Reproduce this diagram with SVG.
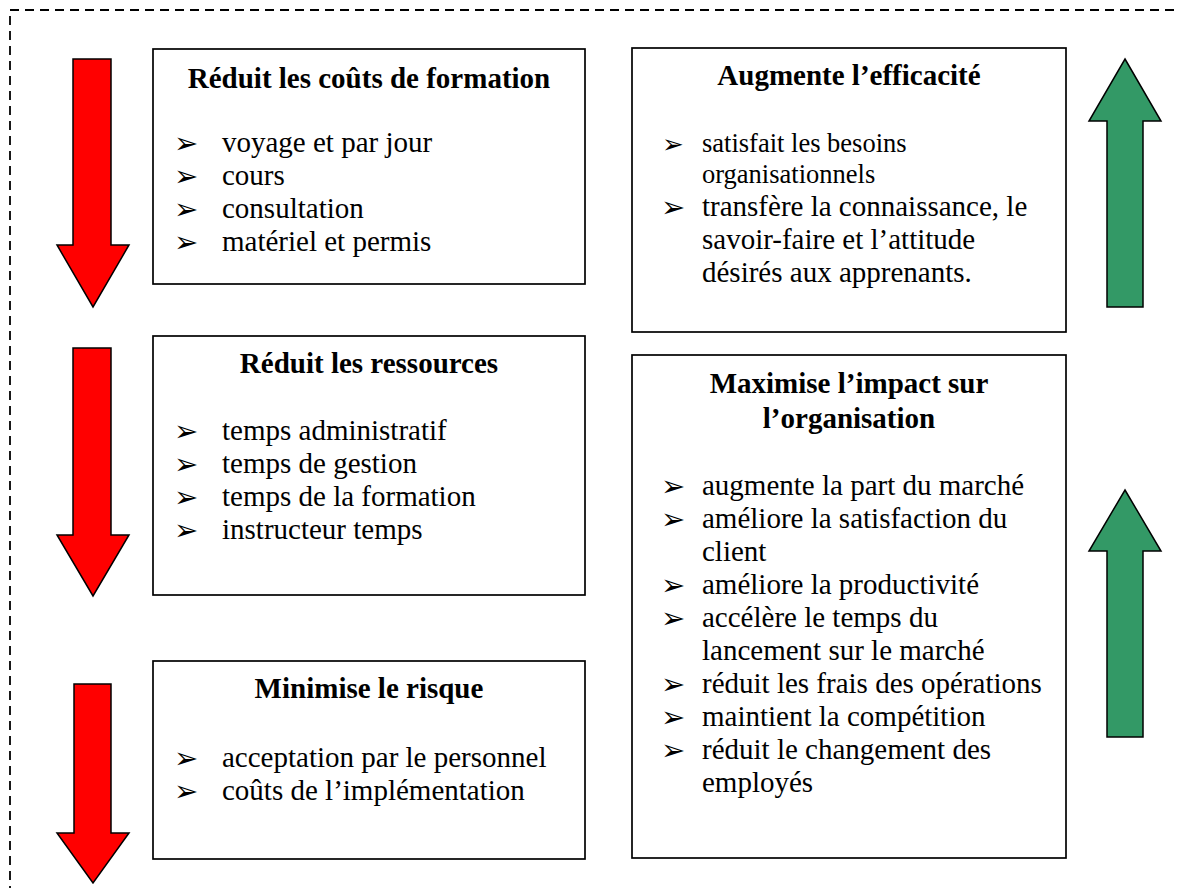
<svg xmlns="http://www.w3.org/2000/svg" width="1178" height="888" viewBox="0 0 1178 888">
<style>
.frame{fill:none;stroke:#000;stroke-width:1.8;stroke-dasharray:9 6}
.box{fill:#fff;stroke:#000;stroke-width:1.7}
.red{fill:#ff0000;stroke:#000;stroke-width:1.5;stroke-linejoin:miter}
.green{fill:#339966;stroke:#000;stroke-width:1.5;stroke-linejoin:miter}
.t{font-family:"Liberation Serif","Times New Roman",serif;font-size:29px;fill:#000}
.h{font-family:"Liberation Serif","Times New Roman",serif;font-size:29px;font-weight:bold;fill:#000;text-anchor:middle}
.s{font-family:"Liberation Serif","Times New Roman",serif;font-size:26.5px;fill:#000}
.b{font-family:"DejaVu Sans",sans-serif;font-size:29px;fill:#000}
.bs{font-family:"DejaVu Sans",sans-serif;font-size:26px;fill:#000}
</style>
<rect class="frame" x="10" y="10" width="1200" height="900"/>
<g id="arrows">
<path class="red" d="M73,59 H111 V245 H129 L93,307 L57,245 H73 Z"/>
<path class="red" d="M73,348 H111 V535 H129 L93,596 L57,535 H73 Z"/>
<path class="red" d="M74,684 H111 V833 H129 L93,883 L57,833 H74 Z"/>
<path class="green" d="M1125,59 L1161,121 H1143 V307 H1107 V121 H1089 Z"/>
<path class="green" d="M1125,490 L1161,551 H1143 V737 H1107 V551 H1089 Z"/>
</g>
<g id="box-couts">
<rect class="box" x="153" y="49" width="432" height="235"/>
<text class="h" x="369" y="88">Réduit les coûts de formation</text>
<text class="b" x="174" y="153">➢</text><text class="t" x="222" y="152">voyage et par jour</text>
<text class="b" x="174" y="186">➢</text><text class="t" x="222" y="185">cours</text>
<text class="b" x="174" y="219">➢</text><text class="t" x="222" y="218">consultation</text>
<text class="b" x="174" y="252">➢</text><text class="t" x="222" y="251">matériel et permis</text>
</g>
<g id="box-ressources">
<rect class="box" x="153" y="336" width="432" height="259"/>
<text class="h" x="369" y="373">Réduit les ressources</text>
<text class="b" x="174" y="441">➢</text><text class="t" x="222" y="440">temps administratif</text>
<text class="b" x="174" y="474">➢</text><text class="t" x="222" y="473">temps de gestion</text>
<text class="b" x="174" y="507">➢</text><text class="t" x="222" y="506">temps de la formation</text>
<text class="b" x="174" y="540">➢</text><text class="t" x="222" y="539">instructeur temps</text>
</g>
<g id="box-risque">
<rect class="box" x="153" y="661" width="432" height="198"/>
<text class="h" x="369" y="698">Minimise le risque</text>
<text class="b" x="174" y="768">➢</text><text class="t" x="222" y="767">acceptation par le personnel</text>
<text class="b" x="174" y="801">➢</text><text class="t" x="222" y="800">coûts de l’implémentation</text>
</g>
<g id="box-efficacite">
<rect class="box" x="632" y="48" width="434" height="284"/>
<text class="h" x="849" y="85">Augmente l’efficacité</text>
<text class="bs" x="662" y="153">➢</text><text class="s" x="702" y="152">satisfait les besoins</text>
<text class="s" x="702" y="183">organisationnels</text>
<text class="b" x="661" y="217">➢</text><text class="t" x="702" y="216">transfère la connaissance, le</text>
<text class="t" x="702" y="249">savoir-faire et l’attitude</text>
<text class="t" x="702" y="282">désirés aux apprenants.</text>
</g>
<g id="box-impact">
<rect class="box" x="632" y="355" width="434" height="503"/>
<text class="h" x="849" y="393">Maximise l’impact sur</text>
<text class="h" x="849" y="428">l’organisation</text>
<text class="b" x="661" y="496">➢</text><text class="t" x="702" y="495">augmente la part du marché</text>
<text class="b" x="661" y="529">➢</text><text class="t" x="702" y="528">améliore la satisfaction du</text>
<text class="t" x="702" y="561">client</text>
<text class="b" x="661" y="595">➢</text><text class="t" x="702" y="594">améliore la productivité</text>
<text class="b" x="661" y="628">➢</text><text class="t" x="702" y="627">accélère le temps du</text>
<text class="t" x="702" y="660">lancement sur le marché</text>
<text class="b" x="661" y="694">➢</text><text class="t" x="702" y="693">réduit les frais des opérations</text>
<text class="b" x="661" y="727">➢</text><text class="t" x="702" y="726">maintient la compétition</text>
<text class="b" x="661" y="760">➢</text><text class="t" x="702" y="759">réduit le changement des</text>
<text class="t" x="702" y="792">employés</text>
</g>
</svg>
